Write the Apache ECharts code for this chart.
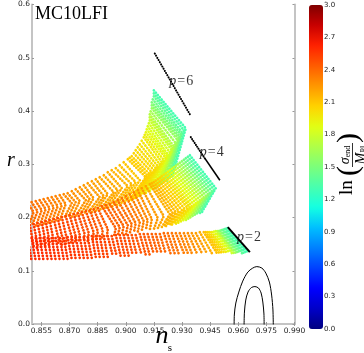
<!DOCTYPE html>
<html>
<head>
<meta charset="utf-8">
<script src="https://cdn.jsdelivr.net/npm/echarts@6/dist/echarts.min.js"></script>
<style>
  html, body { margin: 0; padding: 0; background: #fff; }
  #chart { width: 364px; height: 353px; }
</style>
</head>
<body>
<div id="chart"></div>
<script>
// tick labels
const nsTicks = [0.855, 0.870, 0.885, 0.900, 0.915, 0.930, 0.945, 0.960, 0.975, 0.990]

// each entry: [ln(sigma_end/M_Pl), ns_top, r_top, ns_corner, r_corner, ns_bottom, r_bottom]
const p6Chevrons = [
  [1.30, 0.9150, 0.4388, 0.9320, 0.3675, 0.9246, 0.2738],
  [1.35, 0.9150, 0.4331, 0.9310, 0.3638, 0.9235, 0.2719],
  [1.40, 0.9150, 0.4275, 0.9299, 0.3600, 0.9224, 0.2700],
  [1.45, 0.9144, 0.4219, 0.9294, 0.3563, 0.9219, 0.2681],
  [1.50, 0.9139, 0.4163, 0.9288, 0.3525, 0.9214, 0.2663],
  [1.55, 0.9139, 0.4106, 0.9283, 0.3488, 0.9203, 0.2644],
  [1.60, 0.9139, 0.4050, 0.9278, 0.3450, 0.9192, 0.2625],
  [1.65, 0.9133, 0.3994, 0.9267, 0.3394, 0.9182, 0.2606],
  [1.70, 0.9128, 0.3938, 0.9256, 0.3338, 0.9171, 0.2588],
  [1.74, 0.9128, 0.3881, 0.9251, 0.3300, 0.9166, 0.2569],
  [1.78, 0.9128, 0.3825, 0.9246, 0.3263, 0.9160, 0.2550],
  [1.82, 0.9123, 0.3769, 0.9235, 0.3225, 0.9150, 0.2531],
  [1.85, 0.9117, 0.3713, 0.9224, 0.3188, 0.9139, 0.2513],
  [1.88, 0.9112, 0.3656, 0.9219, 0.3150, 0.9128, 0.2494],
  [1.91, 0.9107, 0.3600, 0.9214, 0.3113, 0.9117, 0.2475],
  [1.94, 0.9101, 0.3553, 0.9203, 0.3075, 0.9107, 0.2456],
  [1.96, 0.9096, 0.3506, 0.9192, 0.3038, 0.9096, 0.2438],
  [1.98, 0.9085, 0.3441, 0.9182, 0.3000, 0.9085, 0.2419],
  [2.00, 0.9075, 0.3375, 0.9171, 0.2963, 0.9075, 0.2400],
  [2.02, 0.9064, 0.3319, 0.9160, 0.2925, 0.9064, 0.2381],
  [2.03, 0.9053, 0.3263, 0.9150, 0.2888, 0.9053, 0.2363],
  [2.05, 0.9043, 0.3206, 0.9139, 0.2850, 0.9043, 0.2344],
  [2.06, 0.9032, 0.3150, 0.9128, 0.2813, 0.9032, 0.2325],
  [2.07, 0.9021, 0.3122, 0.9117, 0.2784, 0.9021, 0.2306],
  [2.08, 0.9011, 0.3094, 0.9107, 0.2756, 0.9011, 0.2288],
  [2.10, 0.8989, 0.3038, 0.9075, 0.2700, 0.8989, 0.2250],
  [2.12, 0.8968, 0.2981, 0.9053, 0.2663, 0.8968, 0.2231],
  [2.14, 0.8947, 0.2925, 0.9032, 0.2625, 0.8947, 0.2213],
  [2.16, 0.8925, 0.2888, 0.9011, 0.2588, 0.8925, 0.2194],
  [2.18, 0.8904, 0.2850, 0.8979, 0.2550, 0.8904, 0.2175],
  [2.19, 0.8883, 0.2794, 0.8957, 0.2513, 0.8883, 0.2156],
  [2.20, 0.8861, 0.2756, 0.8936, 0.2475, 0.8861, 0.2138],
  [2.21, 0.8840, 0.2719, 0.8904, 0.2438, 0.8840, 0.2119],
  [2.22, 0.8819, 0.2681, 0.8883, 0.2400, 0.8819, 0.2100],
  [2.23, 0.8797, 0.2644, 0.8861, 0.2381, 0.8797, 0.2081],
  [2.24, 0.8776, 0.2606, 0.8829, 0.2363, 0.8776, 0.2063],
  [2.25, 0.8755, 0.2569, 0.8808, 0.2344, 0.8755, 0.2044],
  [2.26, 0.8733, 0.2531, 0.8787, 0.2325, 0.8733, 0.2025],
  [2.27, 0.8712, 0.2494, 0.8755, 0.2306, 0.8712, 0.2006],
  [2.28, 0.8690, 0.2456, 0.8733, 0.2288, 0.8690, 0.1988],
  [2.29, 0.8669, 0.2438, 0.8712, 0.2269, 0.8669, 0.1969],
  [2.30, 0.8648, 0.2419, 0.8680, 0.2250, 0.8648, 0.1950],
  [2.31, 0.8626, 0.2400, 0.8659, 0.2231, 0.8626, 0.1931],
  [2.32, 0.8605, 0.2381, 0.8637, 0.2213, 0.8605, 0.1913],
  [2.33, 0.8584, 0.2363, 0.8616, 0.2194, 0.8584, 0.1894],
  [2.34, 0.8562, 0.2344, 0.8594, 0.2175, 0.8562, 0.1875],
  [2.35, 0.8541, 0.2325, 0.8573, 0.2156, 0.8541, 0.1856],
  [2.36, 0.8520, 0.2306, 0.8552, 0.2138, 0.8520, 0.1838],
  [2.37, 0.8498, 0.2288, 0.8530, 0.2119, 0.8498, 0.1838],
  [2.38, 0.8477, 0.2269, 0.8509, 0.2100, 0.8477, 0.1819]
]

const p4Chevrons = [
  [1.30, 0.9342, 0.3169, 0.9480, 0.2550, 0.9406, 0.2100],
  [1.36, 0.9331, 0.3141, 0.9470, 0.2522, 0.9395, 0.2081],
  [1.42, 0.9320, 0.3113, 0.9459, 0.2494, 0.9384, 0.2063],
  [1.48, 0.9310, 0.3084, 0.9448, 0.2466, 0.9374, 0.2044],
  [1.55, 0.9299, 0.3056, 0.9438, 0.2438, 0.9363, 0.2025],
  [1.61, 0.9288, 0.3028, 0.9427, 0.2409, 0.9352, 0.2006],
  [1.67, 0.9278, 0.3000, 0.9416, 0.2381, 0.9342, 0.1988],
  [1.72, 0.9267, 0.2972, 0.9406, 0.2353, 0.9331, 0.1969],
  [1.78, 0.9256, 0.2944, 0.9395, 0.2325, 0.9320, 0.1950],
  [1.83, 0.9246, 0.2916, 0.9384, 0.2297, 0.9310, 0.1931],
  [1.87, 0.9235, 0.2888, 0.9374, 0.2269, 0.9299, 0.1913],
  [1.91, 0.9224, 0.2859, 0.9363, 0.2241, 0.9288, 0.1903],
  [1.95, 0.9214, 0.2831, 0.9352, 0.2213, 0.9278, 0.1894],
  [1.98, 0.9203, 0.2803, 0.9342, 0.2194, 0.9267, 0.1884],
  [2.02, 0.9192, 0.2775, 0.9331, 0.2175, 0.9256, 0.1875],
  [2.05, 0.9182, 0.2747, 0.9315, 0.2156, 0.9246, 0.1866],
  [2.08, 0.9171, 0.2719, 0.9299, 0.2138, 0.9235, 0.1856],
  [2.10, 0.9160, 0.2691, 0.9283, 0.2119, 0.9224, 0.1847],
  [2.13, 0.9150, 0.2663, 0.9267, 0.2100, 0.9214, 0.1838],
  [2.15, 0.9139, 0.2644, 0.9251, 0.2081, 0.9203, 0.1828],
  [2.17, 0.9128, 0.2625, 0.9235, 0.2063, 0.9192, 0.1819],
  [2.21, 0.9107, 0.2588, 0.9203, 0.2025, 0.9171, 0.1800],
  [2.24, 0.9085, 0.2550, 0.9171, 0.1988, 0.9150, 0.1781],
  [2.27, 0.9064, 0.2513, 0.9139, 0.1969, 0.9128, 0.1763],
  [2.30, 0.9043, 0.2475, 0.9117, 0.1950, 0.9107, 0.1763],
  [2.32, 0.9021, 0.2438, 0.9096, 0.1931, 0.9085, 0.1744],
  [2.34, 0.9000, 0.2400, 0.9075, 0.1913, 0.9064, 0.1725],
  [2.36, 0.8979, 0.2363, 0.9053, 0.1894, 0.9043, 0.1706],
  [2.38, 0.8957, 0.2325, 0.9032, 0.1875, 0.9021, 0.1688],
  [2.40, 0.8936, 0.2288, 0.9011, 0.1856, 0.9000, 0.1669],
  [2.41, 0.8915, 0.2250, 0.8989, 0.1838, 0.8979, 0.1669],
  [2.42, 0.8893, 0.2231, 0.8968, 0.1819, 0.8957, 0.1650],
  [2.43, 0.8872, 0.2213, 0.8947, 0.1800, 0.8936, 0.1631],
  [2.44, 0.8851, 0.2175, 0.8904, 0.1781, 0.8898, 0.1613],
  [2.45, 0.8829, 0.2156, 0.8877, 0.1763, 0.8872, 0.1594],
  [2.46, 0.8808, 0.2138, 0.8851, 0.1744, 0.8845, 0.1594],
  [2.47, 0.8787, 0.2119, 0.8829, 0.1725, 0.8824, 0.1575],
  [2.48, 0.8765, 0.2100, 0.8803, 0.1706, 0.8797, 0.1556],
  [2.49, 0.8744, 0.2081, 0.8781, 0.1688, 0.8776, 0.1556],
  [2.50, 0.8723, 0.2063, 0.8755, 0.1669, 0.8749, 0.1538],
  [2.50, 0.8701, 0.2044, 0.8733, 0.1650, 0.8728, 0.1519],
  [2.51, 0.8680, 0.2025, 0.8712, 0.1631, 0.8707, 0.1519],
  [2.51, 0.8659, 0.2006, 0.8685, 0.1613, 0.8680, 0.1500],
  [2.52, 0.8637, 0.1988, 0.8664, 0.1594, 0.8659, 0.1481],
  [2.52, 0.8616, 0.1969, 0.8643, 0.1575, 0.8637, 0.1481],
  [2.53, 0.8594, 0.1950, 0.8616, 0.1556, 0.8610, 0.1463],
  [2.53, 0.8573, 0.1931, 0.8594, 0.1538, 0.8589, 0.1463],
  [2.54, 0.8552, 0.1913, 0.8573, 0.1519, 0.8568, 0.1444],
  [2.54, 0.8530, 0.1894, 0.8552, 0.1500, 0.8546, 0.1444],
  [2.55, 0.8509, 0.1875, 0.8530, 0.1481, 0.8525, 0.1425],
  [2.55, 0.8488, 0.1856, 0.8509, 0.1463, 0.8504, 0.1425]
]

// each entry: [ln(sigma_end/M_Pl), ns_top, r_top, ns_bottom, r_bottom]
const p2Strokes = [
  [1.30, 0.9544, 0.1800, 0.9651, 0.1350],
  [1.32, 0.9536, 0.1791, 0.9641, 0.1340],
  [1.35, 0.9528, 0.1781, 0.9630, 0.1331],
  [1.40, 0.9520, 0.1772, 0.9620, 0.1331],
  [1.45, 0.9512, 0.1763, 0.9609, 0.1331],
  [1.52, 0.9504, 0.1753, 0.9598, 0.1331],
  [1.60, 0.9496, 0.1744, 0.9587, 0.1331],
  [1.70, 0.9488, 0.1744, 0.9577, 0.1331],
  [1.80, 0.9480, 0.1744, 0.9566, 0.1331],
  [1.88, 0.9470, 0.1735, 0.9553, 0.1331],
  [1.95, 0.9459, 0.1725, 0.9539, 0.1331],
  [2.00, 0.9448, 0.1725, 0.9526, 0.1331],
  [2.05, 0.9438, 0.1725, 0.9512, 0.1331],
  [2.09, 0.9427, 0.1725, 0.9499, 0.1331],
  [2.12, 0.9416, 0.1725, 0.9486, 0.1331],
  [2.18, 0.9395, 0.1725, 0.9459, 0.1331],
  [2.22, 0.9374, 0.1706, 0.9432, 0.1331],
  [2.25, 0.9352, 0.1706, 0.9406, 0.1331],
  [2.28, 0.9331, 0.1706, 0.9379, 0.1331],
  [2.30, 0.9310, 0.1706, 0.9352, 0.1331],
  [2.32, 0.9288, 0.1706, 0.9331, 0.1331],
  [2.34, 0.9267, 0.1706, 0.9310, 0.1331],
  [2.36, 0.9246, 0.1706, 0.9283, 0.1313],
  [2.38, 0.9224, 0.1706, 0.9262, 0.1313],
  [2.40, 0.9203, 0.1706, 0.9240, 0.1313],
  [2.41, 0.9182, 0.1688, 0.9214, 0.1313],
  [2.42, 0.9160, 0.1688, 0.9192, 0.1313],
  [2.43, 0.9139, 0.1688, 0.9171, 0.1313],
  [2.44, 0.9117, 0.1688, 0.9150, 0.1313],
  [2.45, 0.9096, 0.1688, 0.9128, 0.1294],
  [2.46, 0.9075, 0.1688, 0.9107, 0.1294],
  [2.47, 0.9053, 0.1669, 0.9085, 0.1294],
  [2.48, 0.9032, 0.1669, 0.9059, 0.1294],
  [2.49, 0.9011, 0.1669, 0.9037, 0.1294],
  [2.50, 0.8989, 0.1669, 0.9016, 0.1275],
  [2.50, 0.8968, 0.1669, 0.8995, 0.1275],
  [2.51, 0.8947, 0.1669, 0.8973, 0.1275],
  [2.51, 0.8925, 0.1650, 0.8952, 0.1275],
  [2.52, 0.8904, 0.1650, 0.8931, 0.1275],
  [2.52, 0.8883, 0.1650, 0.8904, 0.1256],
  [2.53, 0.8861, 0.1650, 0.8883, 0.1256],
  [2.53, 0.8840, 0.1650, 0.8861, 0.1256],
  [2.54, 0.8819, 0.1650, 0.8840, 0.1256],
  [2.54, 0.8797, 0.1631, 0.8819, 0.1238],
  [2.55, 0.8776, 0.1631, 0.8797, 0.1238],
  [2.55, 0.8755, 0.1631, 0.8776, 0.1238],
  [2.56, 0.8733, 0.1631, 0.8755, 0.1238],
  [2.56, 0.8712, 0.1631, 0.8733, 0.1219],
  [2.57, 0.8690, 0.1631, 0.8712, 0.1219],
  [2.57, 0.8669, 0.1613, 0.8690, 0.1219],
  [2.58, 0.8648, 0.1613, 0.8669, 0.1219],
  [2.58, 0.8626, 0.1613, 0.8648, 0.1200],
  [2.58, 0.8605, 0.1613, 0.8626, 0.1200],
  [2.59, 0.8584, 0.1613, 0.8605, 0.1200],
  [2.59, 0.8562, 0.1613, 0.8584, 0.1200],
  [2.60, 0.8541, 0.1613, 0.8562, 0.1181],
  [2.60, 0.8520, 0.1613, 0.8541, 0.1181],
  [2.60, 0.8498, 0.1613, 0.8520, 0.1181],
  [2.60, 0.8477, 0.1613, 0.8498, 0.1181]
]

// black lines for the plain p models
const p6Line = [[0.9155, 0.508], [0.9345, 0.392]]
const p4LineDotted = [[0.9347, 0.351], [0.9422, 0.311]]
const p4LineSolid = [[0.9422, 0.311], [0.9502, 0.270]]
const p2Line = [[0.9544, 0.182], [0.9662, 0.135]]

// p labels
const pLabelNs = [0.9296, 0.9459, 0.9657]
const pLabelR = [0.4556, 0.3216, 0.1631]
const pLabelText = ['6', '4', '2']

// data contours
const contourOuter = [
  [0.9578, -0.004], [0.9579, 0.0169], [0.9587, 0.0394], [0.9603, 0.0600], [0.9624, 0.0806],
  [0.9651, 0.0975], [0.9677, 0.1050], [0.9699, 0.1078], [0.9726, 0.1050], [0.9747, 0.0956],
  [0.9766, 0.0788], [0.9778, 0.0544], [0.9785, 0.0263], [0.9787, -0.004]
]
const contourInner = [
  [0.9631, -0.004], [0.9633, 0.0225], [0.9640, 0.0450], [0.9652, 0.0600], [0.9670, 0.0684],
  [0.9689, 0.0703], [0.9708, 0.0675], [0.9722, 0.0581], [0.9731, 0.0413], [0.9737, 0.0188],
  [0.9738, -0.004]
]

// jet colour map
const jetStops = ['#000080', '#0000c8', '#0000ff', '#0040ff', '#0080ff', '#00bfff', '#14ffe2', '#48ffaf',
  '#7bff7b', '#afff48', '#e2ff14', '#ffd200', '#ff9700', '#ff5c00', '#ff2100', '#c80000', '#800000']

const hexToRgb = (h) => [parseInt(h.slice(1, 3), 16), parseInt(h.slice(3, 5), 16), parseInt(h.slice(5, 7), 16)]

const jet = (v) => {
  const t = Math.min(Math.max(v / 3, 0), 1) * (jetStops.length - 1)
  const i = Math.min(Math.floor(t), jetStops.length - 2)
  const f = t - i
  const a = hexToRgb(jetStops[i])
  const b = hexToRgb(jetStops[i + 1])
  const c = a.map((x, k) => Math.round(x + (b[k] - x) * f))
  return `rgb(${c[0]},${c[1]},${c[2]})`
}

const dotStyle = (color) => ({ color: color, width: 2.7, type: [0.1, 2.9], cap: 'round' })

const lineBase = {
  type: 'line',
  xAxisIndex: 0,
  yAxisIndex: 0,
  symbol: 'none',
  showSymbol: false,
  silent: true,
  animation: false,
  clip: true
}

const series = []

p6Chevrons.forEach(c => {
  series.push({ ...lineBase, data: [[c[1], c[2]], [c[3], c[4]], [c[5], c[6]]], lineStyle: dotStyle(jet(c[0])) })
})
p4Chevrons.forEach(c => {
  series.push({ ...lineBase, data: [[c[1], c[2]], [c[3], c[4]], [c[5], c[6]]], lineStyle: dotStyle(jet(c[0])) })
})
p2Strokes.forEach(c => {
  series.push({ ...lineBase, data: [[c[1], c[2]], [c[3], c[4]]], lineStyle: dotStyle(jet(c[0])) })
})

// p model lines
series.push({ ...lineBase, data: p6Line, z: 5, lineStyle: { color: '#000', width: 2, type: [0.1, 2.4], cap: 'round' } })
series.push({ ...lineBase, data: p4LineDotted, z: 5, lineStyle: { color: '#000', width: 2, type: [0.1, 2.2], cap: 'round' } })
series.push({ ...lineBase, data: p4LineSolid, z: 5, lineStyle: { color: '#000', width: 1.6 } })
series.push({ ...lineBase, data: p2Line, z: 5, lineStyle: { color: '#000', width: 2 } })

// contours
series.push({ ...lineBase, data: contourOuter, smooth: 0.3, z: 5, lineStyle: { color: '#000', width: 1 } })
series.push({ ...lineBase, data: contourInner, smooth: 0.3, z: 5, lineStyle: { color: '#000', width: 1 } })

// p labels
series.push({
  type: 'scatter',
  xAxisIndex: 0,
  yAxisIndex: 0,
  symbolSize: 0,
  silent: true,
  animation: false,
  z: 6,
  data: pLabelNs.map((x, i) => ({ value: [x, pLabelR[i]], label: { formatter: `{i|p}{e|=}{n|${pLabelText[i]}}` } })),
  label: {
    show: true,
    position: 'inside',
    color: '#000',
    rich: {
      i: { fontFamily: 'Liberation Serif', fontStyle: 'italic', fontSize: 14, color: '#000' },
      e: { fontFamily: 'Liberation Serif', fontSize: 14, color: '#000', padding: [0, 1, 0, 1] },
      n: { fontFamily: 'Liberation Serif', fontSize: 14, color: '#000' }
    }
  }
})

// dummy series for the colour bar
const dummyIndex = series.length
series.push({ type: 'scatter', xAxisIndex: 2, yAxisIndex: 2, data: [], silent: true })

const axisGray = '#c4c4c4'
const tickLabel = { fontFamily: 'DejaVu Sans', fontSize: 7.5, color: '#222' }

const option = {
  backgroundColor: '#fff',
  animation: false,
  grid: [
    { left: 32, top: 4.5, width: 262.5, height: 319.5 },
    { left: 309, top: 5, width: 14, height: 324 }
  ],
  xAxis: [
    {
      type: 'value', gridIndex: 0, position: 'bottom', min: 0.85, max: 0.99,
      axisLine: { show: true, lineStyle: { color: axisGray, width: 2 } },
      axisTick: { show: true, inside: true, length: 2, customValues: nsTicks, lineStyle: { color: '#999' } },
      axisLabel: { ...tickLabel, margin: 3, customValues: nsTicks, formatter: v => v.toFixed(3) },
      splitLine: { show: false }
    },
    {
      type: 'value', gridIndex: 0, position: 'top', min: 0.85, max: 0.99,
      axisLine: { show: true, lineStyle: { color: axisGray, width: 2 } },
      axisTick: { show: true, inside: true, length: 2, customValues: nsTicks, lineStyle: { color: '#999' } },
      axisLabel: { show: false },
      splitLine: { show: false }
    },
    { type: 'value', gridIndex: 1, min: 0, max: 1, show: false }
  ],
  yAxis: [
    {
      type: 'value', gridIndex: 0, position: 'left', min: 0, max: 0.6, interval: 0.1,
      axisLine: { show: true, lineStyle: { color: axisGray, width: 2 } },
      axisTick: { show: true, inside: true, length: 2, lineStyle: { color: '#999' } },
      axisLabel: { ...tickLabel, margin: 2, formatter: v => v.toFixed(1) },
      splitLine: { show: false }
    },
    {
      type: 'value', gridIndex: 0, position: 'right', min: 0, max: 0.6, interval: 0.1,
      axisLine: { show: true, lineStyle: { color: axisGray, width: 2 } },
      axisTick: { show: true, inside: true, length: 2, lineStyle: { color: '#999' } },
      axisLabel: { show: false },
      splitLine: { show: false }
    },
    {
      type: 'value', gridIndex: 1, position: 'right', min: 0, max: 3, interval: 0.3,
      axisLine: { show: false },
      axisTick: { show: false },
      axisLabel: { fontFamily: 'DejaVu Sans', fontSize: 7, color: '#222', margin: 1, formatter: v => v.toFixed(1) },
      splitLine: { show: false }
    }
  ],
  visualMap: {
    type: 'continuous',
    seriesIndex: dummyIndex,
    min: 0,
    max: 3,
    left: 309,
    top: 5,
    itemWidth: 14,
    itemHeight: 324,
    padding: 0,
    calculable: false,
    hoverLink: false,
    text: null,
    inRange: { color: jetStops }
  },
  graphic: [
    {
      type: 'text', left: 35, top: 5, silent: true,
      style: { text: 'MC10LFI', font: '18px "Liberation Serif"', fill: '#000' }
    },
    {
      type: 'text', x: 11, y: 161, silent: true,
      style: { text: 'r', font: 'italic 20px "Liberation Serif"', fill: '#000', align: 'center', verticalAlign: 'middle' }
    },
    {
      type: 'text', x: 162, y: 336, silent: true,
      style: { text: 'n', font: 'italic 26px "Liberation Serif"', fill: '#000', align: 'center', verticalAlign: 'middle' }
    },
    {
      type: 'text', x: 170, y: 348, silent: true,
      style: { text: 's', font: '11px "Liberation Serif"', fill: '#000', align: 'center', verticalAlign: 'middle' }
    },
    {
      type: 'group', x: 352, y: 168, rotation: Math.PI / 2, silent: true,
      children: [
        { type: 'text', x: -27, y: -5, style: { text: 'ln', font: '19px "Liberation Serif"', fill: '#000', align: 'left', verticalAlign: 'middle' } },
        { type: 'text', x: -8, y: -3, style: { text: '(', font: '30px "Liberation Serif"', fill: '#000', align: 'left', verticalAlign: 'middle' } },
        {
          type: 'text', x: 13, y: -7,
          style: {
            text: '{a|σ}{b|end}', align: 'center', verticalAlign: 'middle',
            rich: {
              a: { font: 'italic 14px "Liberation Serif"', fill: '#000' },
              b: { font: '8px "Liberation Serif"', fill: '#000', verticalAlign: 'bottom' }
            }
          }
        },
        { type: 'line', shape: { x1: 1, y1: 0.5, x2: 25, y2: 0.5 }, style: { stroke: '#000', lineWidth: 0.8 } },
        {
          type: 'text', x: 13, y: 9,
          style: {
            text: '{a|M}{b|Pl}', align: 'center', verticalAlign: 'middle',
            rich: {
              a: { font: 'italic 14px "Liberation Serif"', fill: '#000' },
              b: { font: '8px "Liberation Serif"', fill: '#000', verticalAlign: 'bottom' }
            }
          }
        },
        { type: 'text', x: 25, y: -3, style: { text: ')', font: '30px "Liberation Serif"', fill: '#000', align: 'left', verticalAlign: 'middle' } }
      ]
    }
  ],
  series: series
}

const chart = echarts.init(document.getElementById('chart'))
chart.setOption(option)
</script>
</body>
</html>
